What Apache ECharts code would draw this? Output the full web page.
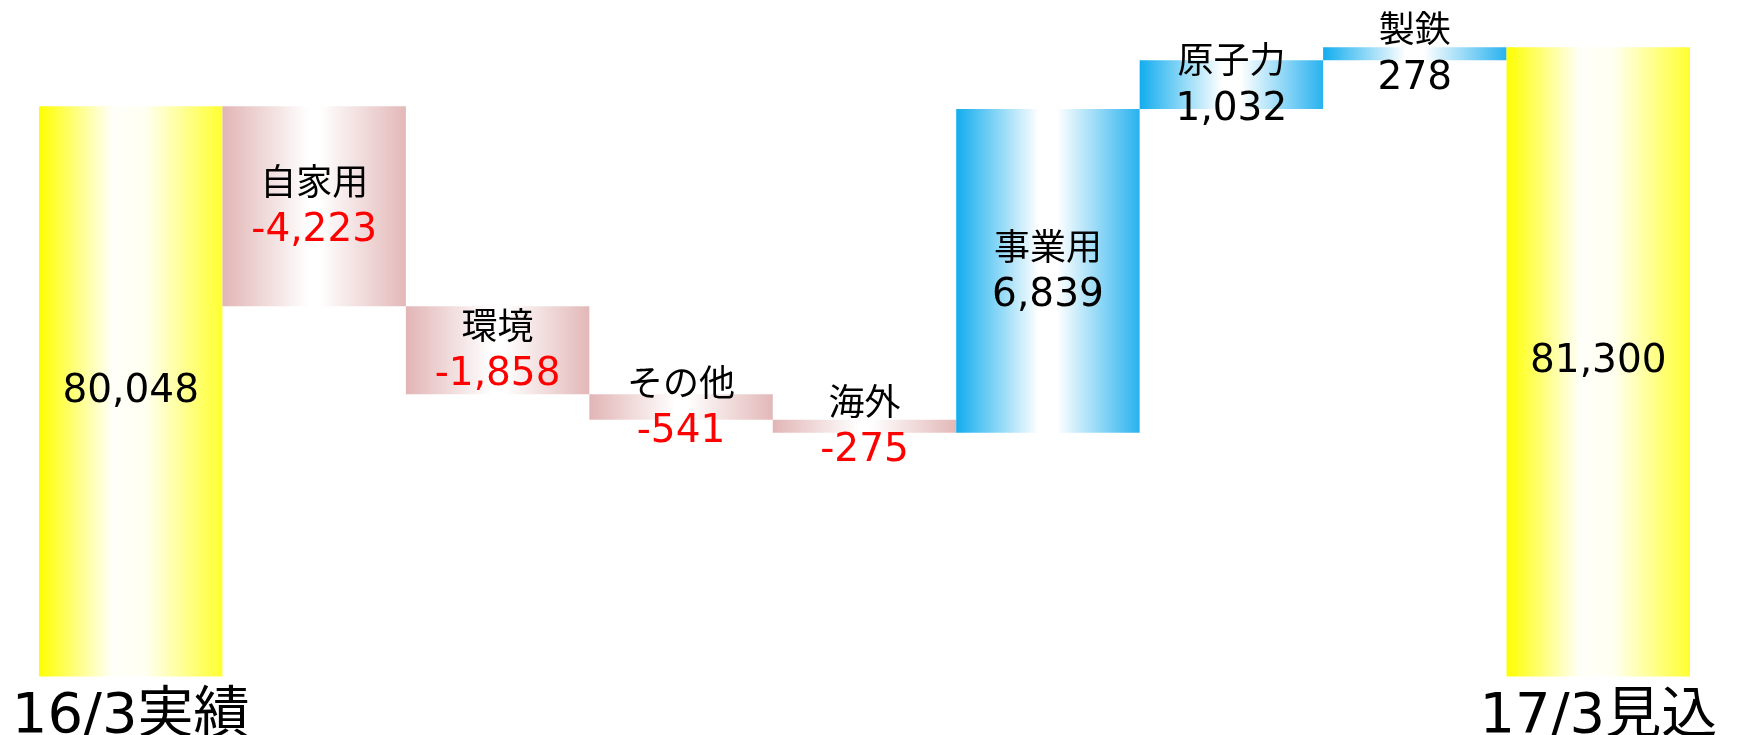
<!DOCTYPE html>
<html>
<head>
<meta charset="utf-8">
<title>販売電力量 増減</title>
<script src="https://cdn.jsdelivr.net/npm/echarts@6/dist/echarts.min.js"></script>
<style>
  html, body { margin: 0; padding: 0; background: #fff; }
  #chart { width: 1740px; height: 735px; }
</style>
</head>
<body>
<div id="chart"></div>
<script>
// カテゴリ（先頭と末尾は合計の棒）
const categories = ['16/3実績', '自家用', '環境', 'その他', '海外', '事業用', '原子力', '製鉄', '17/3見込']
// 増減値（先頭と末尾は合計値）
const values = [80048, -4223, -1858, -541, -275, 6839, 1032, 278, 81300]
// 軸ラベル（合計の棒だけ）
const axisLabels = ['16/3実績', '', '', '', '', '', '', '', '17/3見込']

const lastIndex = values.length - 1
const numFont = "'DejaVu Sans', 'Noto Sans CJK JP', sans-serif"
const cjkFont = "'Noto Sans CJK JP', sans-serif"

// 透明な土台の高さを増減値から求める
const bases = []
let running = 0
values.forEach((v, i) => {
  if (i === 0 || i === lastIndex) {
    bases.push(0)
    running = v
    return
  }
  if (v < 0) {
    running += v
    bases.push(running)
  } else {
    bases.push(running)
    running += v
  }
})

const gradient = (stops) => new echarts.graphic.LinearGradient(0, 0, 1, 0,
  stops.map(s => ({ offset: s[0], color: s[1] })))

const colorFor = (i) => {
  if (i === 0 || i === lastIndex) {
    return gradient([[0, '#ffff00'], [0.4, '#fffffa'], [0.58, '#fffff2'], [1, '#ffff30']])
  }
  if (values[i] < 0) {
    return gradient([[0, '#e2b5b5'], [0.47, '#ffffff'], [0.53, '#ffffff'], [1, '#e3b8b8']])
  }
  return gradient([[0, '#12adee'], [0.45, '#ffffff'], [0.55, '#ffffff'], [1, '#28b2ef']])
}

const fmt = (v) => v.toLocaleString('en-US')

const chart = echarts.init(document.getElementById('chart'), null, { renderer: 'canvas' })

const option = {
  animation: false,
  backgroundColor: '#ffffff',
  // 軸ラベルが下端にはみ出しても枠は縮めない
  grid: { left: 39, right: 50, top: 14, bottom: 58.5, containLabel: false, outerBoundsMode: 'none' },
  xAxis: {
    type: 'category',
    data: categories,
    axisLine: { show: false },
    axisTick: { show: false },
    splitLine: { show: false },
    axisLabel: {
      interval: 0,
      margin: 13,
      fontSize: 56,
      fontFamily: numFont,
      color: '#000000',
      formatter: (v, i) => axisLabels[i]
    }
  },
  yAxis: {
    type: 'value',
    min: 68000,
    max: 82000,
    show: false,
    splitLine: { show: false }
  },
  series: [
    {
      // 土台（透明）
      type: 'bar',
      stack: 'w',
      barCategoryGap: '0%',
      silent: true,
      itemStyle: { color: 'transparent' },
      emphasis: { disabled: true },
      data: bases
    },
    {
      type: 'bar',
      stack: 'w',
      barCategoryGap: '0%',
      emphasis: { disabled: true },
      data: values.map((v, i) => ({ value: Math.abs(v), itemStyle: { color: colorFor(i) } })),
      label: {
        show: true,
        position: 'inside',
        formatter: (p) => {
          const i = p.dataIndex
          const v = values[i]
          if (i === 0 || i === lastIndex) return '{v|' + fmt(v) + '}'
          return '{n|' + categories[i] + '}\n' + (v < 0 ? '{r|' : '{v|') + fmt(v) + '}'
        },
        rich: {
          n: { fontFamily: cjkFont, fontSize: 36, lineHeight: 50, color: '#000000' },
          v: { fontFamily: numFont, fontSize: 39, lineHeight: 50, color: '#000000' },
          r: { fontFamily: numFont, fontSize: 39, lineHeight: 50, color: '#ff0000' }
        }
      }
    }
  ]
}

chart.setOption(option)
</script>
</body>
</html>
